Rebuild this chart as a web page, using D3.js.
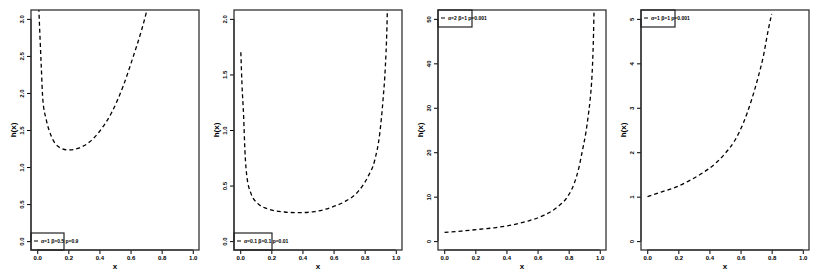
<!DOCTYPE html>
<html>
<head>
<meta charset="utf-8">
<script src="https://cdn.jsdelivr.net/npm/d3@7"></script>
<style>
  body { margin: 0; background: #fff; }
  text { font-family: "Liberation Sans", Arial, sans-serif; fill: #000; }
</style>
</head>
<body>
<script>
// hazard curves, [x, h(x)]
var hazard1 = [[0.010,3.15],[0.026,2.36],[0.036,1.91],[0.058,1.64],[0.09,1.42],[0.133,1.28],
	[0.197,1.23],[0.273,1.26],[0.337,1.34],[0.40,1.48],[0.477,1.73],[0.552,2.09],[0.617,2.49],
	[0.671,2.85],[0.703,3.10],[0.72,3.25]];
var hazard2 = [[0.004,1.70],[0.011,1.42],[0.022,1.12],[0.030,0.82],[0.043,0.58],[0.069,0.43],
	[0.112,0.34],[0.187,0.286],[0.284,0.262],[0.37,0.256],[0.477,0.265],[0.585,0.304],
	[0.671,0.355],[0.757,0.445],[0.821,0.58],[0.865,0.73],[0.897,0.97],[0.918,1.27],
	[0.933,1.57],[0.942,1.87],[0.946,2.08],[0.95,2.2]];
var hazard3 = [[0.002,1.96],[0.109,2.25],[0.216,2.63],[0.323,3.0],[0.43,3.6],[0.536,4.5],
	[0.643,5.86],[0.729,7.7],[0.793,10],[0.836,13],[0.867,16.7],[0.889,20.5],[0.91,24.3],
	[0.925,28],[0.938,31.8],[0.947,35.5],[0.953,39.3],[0.96,46.8],[0.963,51.6],[0.965,54]];
var hazard4 = [[0.002,1.0],[0.094,1.11],[0.18,1.21],[0.265,1.35],[0.35,1.52],[0.436,1.74],
	[0.5,1.97],[0.564,2.27],[0.617,2.65],[0.671,3.18],[0.714,3.7],[0.746,4.15],[0.778,4.75],
	[0.80,5.11]];

var legendLabels = ["α=1 β=0.5 p=0.9", "α=0.1 β=0.1 p=0.01", "α=2 β=1 p=0.001", "α=1 β=1 p=0.001"];
var xTicks = [0, 0.2, 0.4, 0.6, 0.8, 1.0];
var yTicks1 = [0, 0.5, 1, 1.5, 2, 2.5, 3];
var yTicks2 = [0, 0.5, 1, 1.5, 2];
var yTicks3 = [0, 10, 20, 30, 40, 50];
var yTicks4 = [0, 1, 2, 3, 4, 5];

var series = [hazard1, hazard2, hazard3, hazard4];
var yTickSets = [yTicks1, yTicks2, yTicks3, yTicks4];
var yFormats = [d3.format(".1f"), d3.format(".1f"), d3.format("d"), d3.format("d")];

// layout
var plotLefts = [31, 234, 438, 641];
var plotW = 168, plotTop = 10, plotBottom = 250;
var legendW = [33, 38, 34, 34];
var legendTop = [false, false, true, true];

var svg = d3.select("body").append("svg")
	.attr("width", 821)
	.attr("height", 276);

series.forEach(function(data, i){
	var left = plotLefts[i];
	var ticks = yTickSets[i];
	var ymax = d3.max(ticks);

	var x = d3.scaleLinear().domain([-0.04, 1.04]).range([left, left + plotW]);
	var y = d3.scaleLinear().domain([-0.04 * ymax, 1.04 * ymax]).range([plotBottom, plotTop]);

	var g = svg.append("g");

	// clip to plot region
	g.append("clipPath").attr("id", "clip" + i)
		.append("rect")
		.attr("x", left).attr("y", plotTop)
		.attr("width", plotW).attr("height", plotBottom - plotTop);

	// curve
	g.append("path")
		.datum(data)
		.attr("clip-path", "url(#clip" + i + ")")
		.attr("fill", "none")
		.attr("stroke", "#000")
		.attr("stroke-width", 1.3)
		.attr("stroke-dasharray", "4,3")
		.attr("d", d3.line()
			.x(function(d){ return x(d[0]); })
			.y(function(d){ return y(d[1]); })
			.curve(d3.curveMonotoneX));

	// x axis
	var xa = g.append("g")
		.attr("transform", "translate(0," + plotBottom + ")")
		.call(d3.axisBottom(x).tickValues(xTicks).tickFormat(d3.format(".1f")).tickSize(4).tickPadding(2));
	xa.select(".domain").attr("d", "M" + x(0) + ",0H" + x(1));
	xa.selectAll("text").style("font-size", "6px").style("font-weight", "bold");

	// y axis, labels parallel to the axis
	var ya = g.append("g")
		.attr("transform", "translate(" + left + ",0)")
		.call(d3.axisLeft(y).tickValues(ticks).tickFormat(yFormats[i]).tickSize(4).tickPadding(2));
	ya.select(".domain").attr("d", "M0," + y(0) + "V" + y(ymax));
	ya.selectAll("text")
		.style("font-size", "6px")
		.style("font-weight", "bold")
		.attr("text-anchor", "middle")
		.attr("x", 0).attr("y", 0)
		.attr("dy", null)
		.attr("transform", "translate(-7.5,0) rotate(-90)");

	// box
	g.append("rect")
		.attr("x", left).attr("y", plotTop)
		.attr("width", plotW).attr("height", plotBottom - plotTop)
		.attr("fill", "none")
		.attr("stroke", "#333")
		.attr("stroke-width", 1.3);

	// axis titles
	g.append("text")
		.attr("x", left + plotW / 2).attr("y", 269)
		.attr("text-anchor", "middle")
		.style("font-size", "8px").style("font-weight", "bold")
		.text("x");
	g.append("text")
		.attr("transform", "translate(" + (left - 15) + "," + ((plotTop + plotBottom) / 2) + ") rotate(-90)")
		.attr("text-anchor", "middle")
		.style("font-size", "8px").style("font-weight", "bold")
		.text("h(x)");

	// legend
	var ly = legendTop[i] ? plotTop : plotBottom - 17;
	g.append("rect")
		.attr("x", left).attr("y", ly)
		.attr("width", legendW[i]).attr("height", 17)
		.attr("fill", "none")
		.attr("stroke", "#222")
		.attr("stroke-width", 1.2);
	g.append("line")
		.attr("x1", left + 3).attr("x2", left + 7)
		.attr("y1", ly + 8).attr("y2", ly + 8)
		.attr("stroke", "#000").attr("stroke-width", 1);
	g.append("text")
		.attr("x", left + 10).attr("y", ly + 9.8)
		.style("font-size", "5px").style("font-weight", "bold")
		.text(legendLabels[i]);
});
</script>
</body>
</html>
